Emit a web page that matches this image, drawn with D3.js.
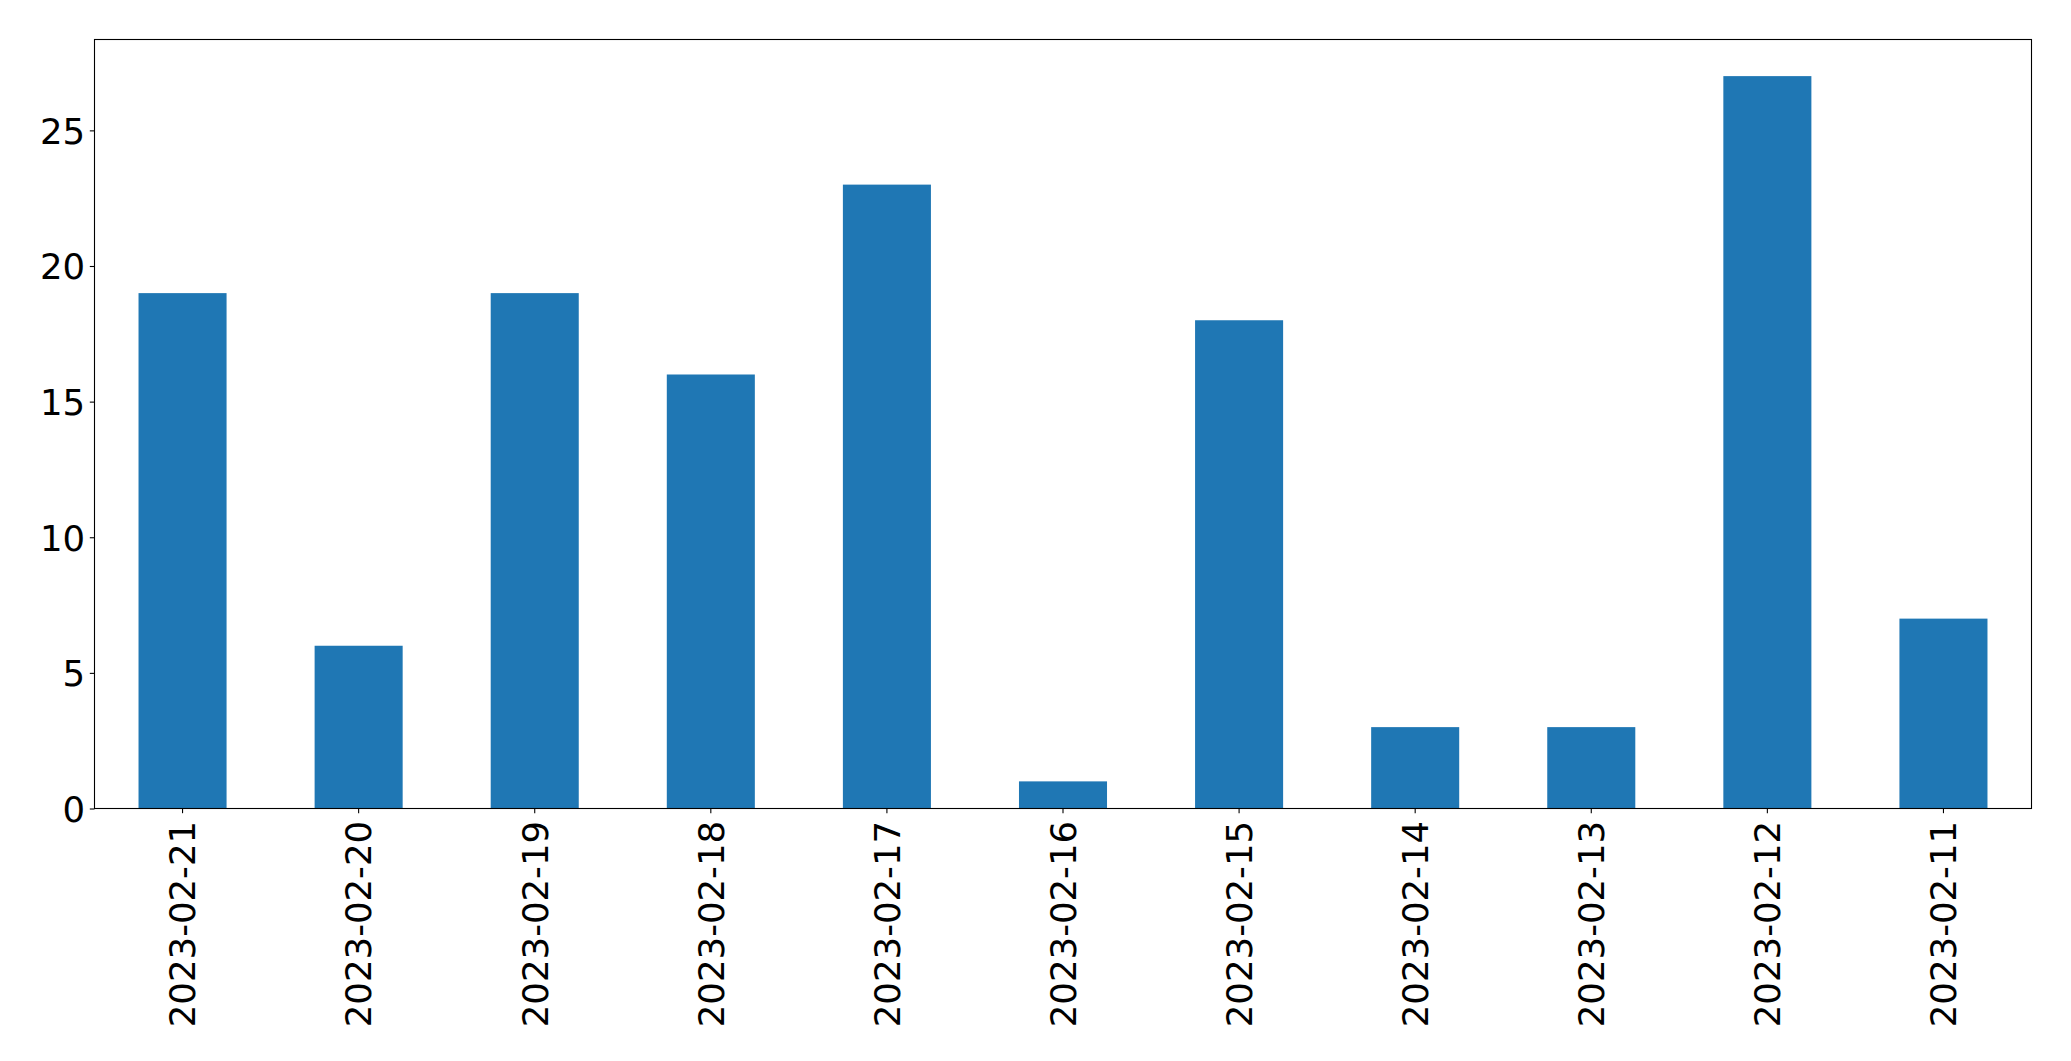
<!DOCTYPE html>
<html>
<head>
<meta charset="utf-8">
<script src="https://cdn.jsdelivr.net/npm/d3@7"></script>
<style>
  html, body { margin: 0; padding: 0; background: #fff; }
  svg { display: block; }
</style>
</head>
<body>
<script>
const categories = ["2023-02-21","2023-02-20","2023-02-19","2023-02-18","2023-02-17","2023-02-16","2023-02-15","2023-02-14","2023-02-13","2023-02-12","2023-02-11"];
const values = [19, 6, 19, 16, 23, 1, 18, 3, 3, 27, 7];
const yTicks = [0, 5, 10, 15, 20, 25];

const W = 2071, H = 1061;
const mLeft = 94.5, mRight = 2031.5, mTop = 39.5, mBottom = 808.5;
const fontSize = 35.5;
const tickLen = 4.7, pad = 4.7;

const svg = d3.select("body").append("svg").attr("width", W).attr("height", H);

const x = d3.scaleBand().domain(categories).range([mLeft, mRight]).paddingInner(0.5).paddingOuter(0.25);
const yMax = d3.max(values) * 1.05;
const y = d3.scaleLinear().domain([0, yMax]).range([mBottom, mTop]);

svg.append("g").selectAll("rect").data(values).join("rect")
  .attr("x", (d, i) => x(categories[i]))
  .attr("width", x.bandwidth())
  .attr("y", d => y(d))
  .attr("height", d => y(0) - y(d))
  .attr("fill", "#1f77b4");

// Y axis
const yAxis = d3.axisLeft(y).tickValues(yTicks).tickSize(tickLen).tickPadding(pad).tickFormat(d3.format("d"));
const gy = svg.append("g").attr("transform", `translate(${mLeft},0)`).call(yAxis);
gy.select(".domain").remove();
gy.selectAll(".tick line").attr("stroke", "#000").attr("stroke-width", 1.1);
gy.selectAll(".tick text").attr("font-family", "DejaVu Sans").attr("font-size", fontSize).attr("fill", "#000").attr("dy", "0.36em");

// X axis
const xAxis = d3.axisBottom(x).tickSize(tickLen).tickPadding(pad);
const gx = svg.append("g").attr("transform", `translate(0,${mBottom})`).call(xAxis);
gx.select(".domain").remove();
gx.selectAll(".tick line").attr("stroke", "#000").attr("stroke-width", 1.1);
gx.selectAll(".tick text")
  .attr("font-family", "DejaVu Sans").attr("font-size", fontSize).attr("fill", "#000")
  .attr("text-anchor", "end")
  .attr("transform", `translate(0,${tickLen + pad + 3}) rotate(-90)`)
  .attr("x", 0).attr("y", 0).attr("dy", "0.36em");

// Frame
svg.append("rect").attr("x", mLeft).attr("y", mTop).attr("width", mRight - mLeft).attr("height", mBottom - mTop)
  .attr("fill", "none").attr("stroke", "#000").attr("stroke-width", 1.1);
</script>
</body>
</html>
